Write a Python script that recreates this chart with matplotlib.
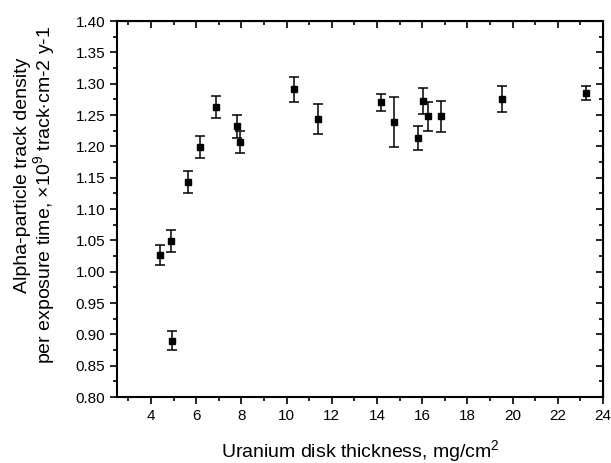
import matplotlib
matplotlib.use('Agg')
import matplotlib.pyplot as plt
from matplotlib.ticker import MultipleLocator, FormatStrFormatter

plt.rcParams['font.family'] = ['Liberation Sans', 'DejaVu Sans']
plt.rcParams['mathtext.fontset'] = 'custom'
plt.rcParams['mathtext.rm'] = 'Liberation Sans'

# disk thickness, mg/cm2
thick = [4.41, 4.88, 4.93, 5.62, 6.18, 6.87, 7.80, 7.95, 10.31, 11.39,
         14.16, 14.75, 15.81, 16.04, 16.26, 16.83, 19.54, 23.23]
# track density, x1e9 track cm-2 y-1
dens = [1.027, 1.049, 0.890, 1.143, 1.199, 1.263, 1.232, 1.207, 1.291, 1.244,
        1.270, 1.239, 1.213, 1.272, 1.248, 1.248, 1.276, 1.285]
err = [0.016, 0.017, 0.015, 0.017, 0.018, 0.018, 0.018, 0.018, 0.020, 0.024,
       0.013, 0.040, 0.019, 0.021, 0.023, 0.025, 0.021, 0.011]

fig = plt.figure(figsize=(6.11, 4.63), dpi=100)
ax = fig.add_axes([0.1915, 0.1425, 0.7955, 0.8121])

ax.errorbar(thick, dens, yerr=err, fmt='s', color='black', ms=3.8,
            ecolor='black', elinewidth=1.1, capsize=3.3, capthick=1.1)

ax.set_xlim(2.5, 24)
ax.set_ylim(0.80, 1.40)
ax.xaxis.set_minor_locator(MultipleLocator(1))
ax.yaxis.set_major_locator(MultipleLocator(0.05))
ax.yaxis.set_minor_locator(MultipleLocator(0.025))
ax.yaxis.set_major_formatter(FormatStrFormatter('%.2f'))
ax.set_xticks([4, 6, 8, 10, 12, 14, 16, 18, 20, 22, 24])

for s in ax.spines.values():
    s.set_linewidth(1.5)
ax.tick_params(which='both', direction='out', width=1.2, labelsize=11,
               top=False, right=False)
ax.tick_params(which='major', length=5)
ax.tick_params(which='minor', length=3)

top = ax.secondary_xaxis('top')
top.xaxis.set_major_locator(MultipleLocator(2))
top.xaxis.set_minor_locator(MultipleLocator(1))
top.tick_params(which='both', direction='in', width=1.2, labeltop=False)
top.tick_params(which='major', length=5)
top.tick_params(which='minor', length=3)
right = ax.secondary_yaxis('right')
right.yaxis.set_major_locator(MultipleLocator(0.05))
right.yaxis.set_minor_locator(MultipleLocator(0.025))
right.tick_params(which='both', direction='in', width=1.2, labelright=False)
right.tick_params(which='major', length=5)
right.tick_params(which='minor', length=3)

ax.set_xlabel(r'Uranium disk thickness, mg/cm$\mathregular{^{2}}$', fontsize=14, labelpad=11)
fig.text(23 / 611, 1 - 175 / 463, 'Alpha-particle track density',
         rotation=90, ha='center', va='center', fontsize=14)
fig.text(44 / 611, 1 - 195 / 463,
         r'per exposure time, $\mathregular{\times 10^{9}}$ track$\cdot$cm-2 y-1',
         rotation=90, ha='center', va='center', fontsize=14)

fig.savefig('out.png', dpi=100)
